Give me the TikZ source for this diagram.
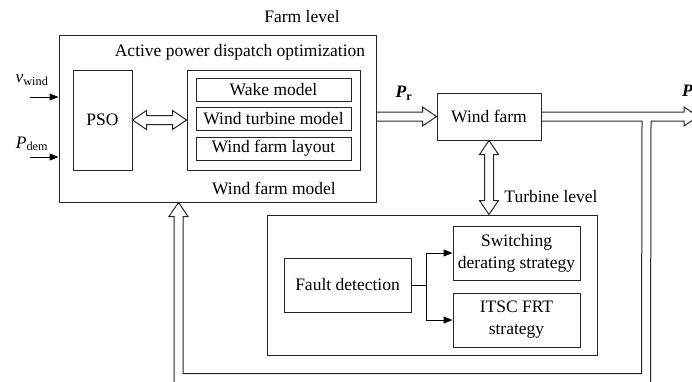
\documentclass[tikz,border=0pt]{standalone}
\usepackage{fontspec}
\setmainfont{Liberation Serif}
\usepackage{tikz}
\usetikzlibrary{calc}
\usetikzlibrary{arrows.meta}
\usetikzlibrary{positioning}
\tikzset{block/.style={draw=black!85,line width=1pt,inner sep=0pt,align=center}}
\tikzset{hollow/.style={draw=black!85,line width=1pt,line join=miter}}
\tikzset{signal/.style={draw=black,line width=1pt,-{Triangle[length=9pt,width=7pt]}}}
\tikzset{caption/.style={inner sep=0pt}}
\def\hw{4.5}
\def\hh{9.5}
\def\hl{14}

\begin{document}
\begin{tikzpicture}[x=1pt,y=-1pt,font=\fontsize{17.5}{22}\selectfont]
\useasboundingbox (0,0) rectangle (692,381);
\clip (0,0) rectangle (692,381);

% farm level
\node (farm) at (217.5,118.5) [block,minimum width=317pt,minimum height=167pt] {};
\node (PSO) at (102.5,120) [block,minimum width=59pt,minimum height=100pt] {PSO};
\node (WFM) at (273.5,120) [block,minimum width=173pt,minimum height=100pt] {};
\foreach \i/\y/\t in {1/90/Wake model,2/118.5/Wind turbine model,3/148.5/Wind farm layout} {
	\node (M\i) at (273.5,\y) [block,minimum width=155pt,minimum height=23pt] {\t};
}
\node (farmlab) at (302,17) [caption] {Farm level};
\node (optlab) at (240,52) [caption] {Active power dispatch optimization};
\node (wfmlab) at (274,188) [caption] {Wind farm model};

\node (vw) at (32,80) [caption] {\textit{v}\textsubscript{wind}};
\node (pd) at (32,144) [caption] {\textit{P}\textsubscript{dem}};
\coordinate (vws) at (30,97);
\coordinate (pds) at (30,157);
\draw[signal] (vws) -- (vws -| farm.west);
\draw[signal] (pds) -- (pds -| farm.west);

% PSO <-> wind farm model
\draw[hollow] (PSO.east) -- ($(PSO.east)+(\hl,-\hh)$) -- ($(PSO.east)+(\hl,-\hw)$)
	-- ($(WFM.west)+(-\hl,-\hw)$) -- ($(WFM.west)+(-\hl,-\hh)$) -- (WFM.west)
	-- ($(WFM.west)+(-\hl,\hh)$) -- ($(WFM.west)+(-\hl,\hw)$)
	-- ($(PSO.east)+(\hl,\hw)$) -- ($(PSO.east)+(\hl,\hh)$) -- cycle;

% wind farm
\node (WF) at (489,116.5) [block,minimum width=104pt,minimum height=47pt] {Wind farm};
\node (pr) at (404,93) [caption] {\textbf{\textit{P}}\textsubscript{\textbf{r}}};
\coordinate (prs) at (farm.east |- WF.west);
\draw[hollow] ($(prs)+(0,-\hw)$) -- ($(WF.west)+(-\hl,-\hw)$) -- ($(WF.west)+(-\hl,-\hh)$)
	-- (WF.west) -- ($(WF.west)+(-\hl,\hh)$) -- ($(WF.west)+(-\hl,\hw)$) -- ($(prs)+(0,\hw)$);

% turbine level
\node (TL) at (432,285) [block,minimum width=330pt,minimum height=140pt] {};
\node (tllab) at (551,197) [caption] {Turbine level};
\node (FD) at (347.5,285) [block,minimum width=127pt,minimum height=54pt] {Fault detection};
\node (SW) at (516.5,253) [block,minimum width=127pt,minimum height=54pt] {Switching\\derating strategy};
\node (IT) at (516.5,320) [block,minimum width=127pt,minimum height=54pt] {ITSC FRT\\strategy};
\draw[signal] (FD.east) -- ++(15,0) |- (SW.west);
\draw[signal] (FD.east) -- ++(15,0) |- (IT.west);

\coordinate (v1) at (WF.south);
\coordinate (v2) at (WF.south |- TL.north);
\draw[hollow] (v1) -- ($(v1)+(\hh,\hl)$) -- ($(v1)+(\hw,\hl)$)
	-- ($(v2)+(\hw,-\hl)$) -- ($(v2)+(\hh,-\hl)$) -- (v2)
	-- ($(v2)+(-\hh,-\hl)$) -- ($(v2)+(-\hw,-\hl)$)
	-- ($(v1)+(-\hw,\hl)$) -- ($(v1)+(-\hh,\hl)$) -- cycle;

% output and feedback
\coordinate (out) at (698,116.5);
\coordinate (dn) at ($(WF.east)+(105,0)$);
\coordinate (bot) at (646,378);
\coordinate (fb) at ($(farm.south west)+(120,0)$);
\node (po) at (682,91) [caption,anchor=west] {\textbf{\textit{P}}};
\draw[hollow] ($(WF.east)+(0,-\hw)$) -- ($(out)+(-\hl,-\hw)$) -- ($(out)+(-\hl,-\hh)$)
	-- (out) -- ($(out)+(-\hl,\hh)$) -- ($(out)+(-\hl,\hw)$)
	-- ($(dn)+(\hw,\hw)$) -- ($(bot)+(\hw,\hw)$) -- ($(bot -| fb)+(-\hw,\hw)$)
	-- ($(fb)+(-\hw,\hl)$) -- ($(fb)+(-\hh,\hl)$) -- (fb) -- ($(fb)+(\hh,\hl)$) -- ($(fb)+(\hw,\hl)$)
	-- ($(bot -| fb)+(\hw,-\hw)$) -- ($(bot)+(-\hw,-\hw)$) -- ($(dn)+(-\hw,\hw)$) -- ($(WF.east)+(0,\hw)$);

\end{tikzpicture}
\end{document}
